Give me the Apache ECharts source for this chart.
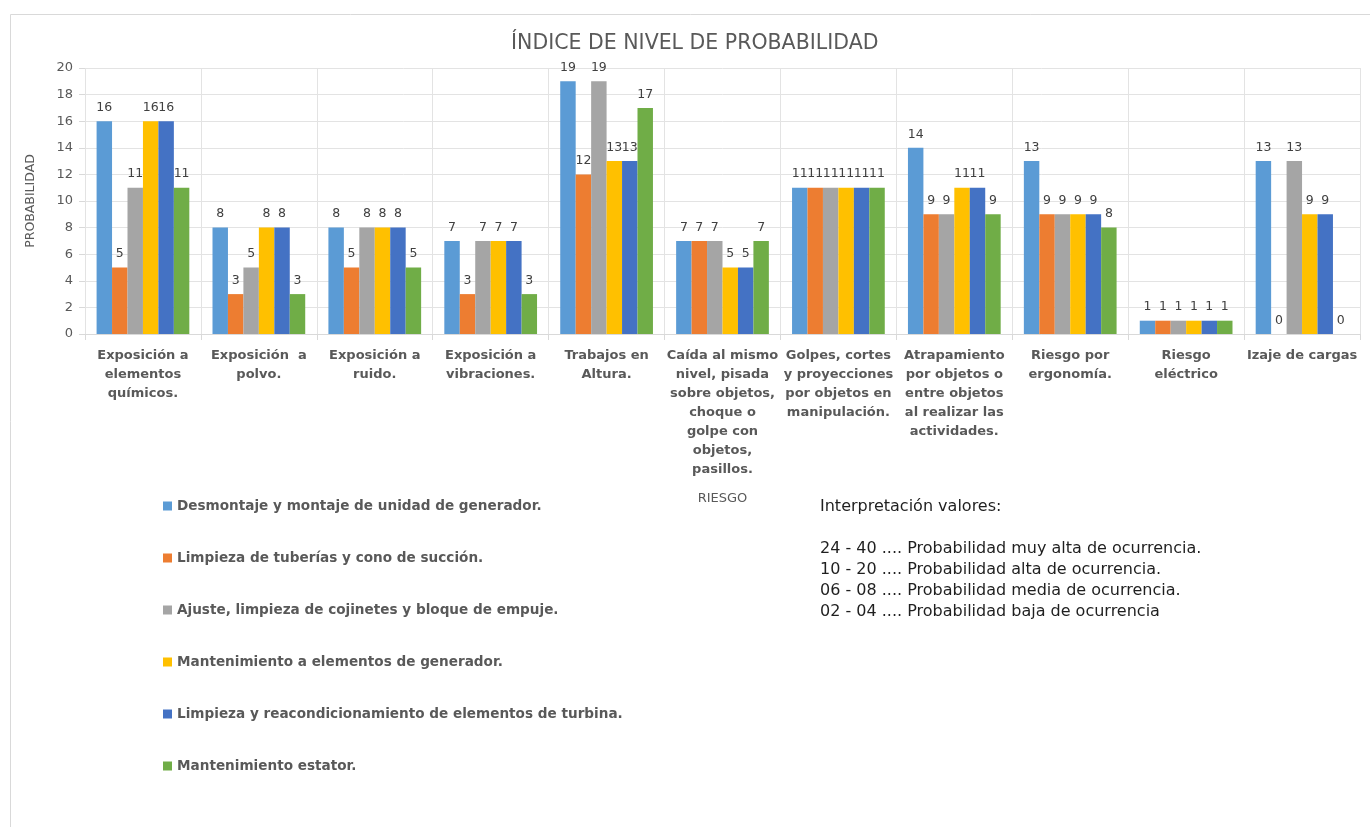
<!DOCTYPE html>
<html>
<head>
<meta charset="utf-8">
<title>Índice de nivel de probabilidad</title>
<script src="https://cdn.jsdelivr.net/npm/echarts@6/dist/echarts.min.js"></script>
<style>
  html, body { margin: 0; padding: 0; background: #ffffff; }
  #chart { width: 1370px; height: 827px; }
</style>
</head>
<body>
<div id="chart"></div>
<script>
// Risk categories (x axis)
const categories = [
  'Exposición a\nelementos\nquímicos.',
  'Exposición  a\npolvo.',
  'Exposición a\nruido.',
  'Exposición a\nvibraciones.',
  'Trabajos en\nAltura.',
  'Caída al mismo\nnivel, pisada\nsobre objetos,\nchoque o\ngolpe con\nobjetos,\npasillos.',
  'Golpes, cortes\ny proyecciones\npor objetos en\nmanipulación.',
  'Atrapamiento\npor objetos o\nentre objetos\nal realizar las\nactividades.',
  'Riesgo por\nergonomía.',
  'Riesgo\neléctrico',
  'Izaje de cargas'
];

// Activities (series names)
const activities = [
  'Desmontaje y montaje de unidad de generador.',
  'Limpieza de tuberías y cono de succión.',
  'Ajuste, limpieza de cojinetes y bloque de empuje.',
  'Mantenimiento a elementos de generador.',
  'Limpieza y reacondicionamiento de elementos de turbina.',
  'Mantenimiento estator.'
];

// Probability index per activity, one value per risk category
const desmontajeGenerador  = [16, 8, 8, 7, 19, 7, 11, 14, 13, 1, 13];
const limpiezaTuberias     = [5, 3, 5, 3, 12, 7, 11, 9, 9, 1, 0];
const ajusteCojinetes      = [11, 5, 8, 7, 19, 7, 11, 9, 9, 1, 13];
const mantElementosGen     = [16, 8, 8, 7, 13, 5, 11, 11, 9, 1, 9];
const limpiezaTurbina      = [16, 8, 8, 7, 13, 5, 11, 11, 9, 1, 9];
const mantEstator          = [11, 3, 5, 3, 17, 7, 11, 9, 8, 1, 0];

const seriesValues = [desmontajeGenerador, limpiezaTuberias, ajusteCojinetes,
                      mantElementosGen, limpiezaTurbina, mantEstator];
const colors = ['#5B9BD5', '#ED7D31', '#A5A5A5', '#FFC000', '#4472C4', '#70AD47'];

// Y axis ticks
const yMin = 0, yMax = 20, yStep = 2;

// Interpretation notes
const notes = [
  'Interpretación valores:',
  '',
  '24 - 40 .... Probabilidad muy alta de ocurrencia.',
  '10 - 20 .... Probabilidad alta de ocurrencia.',
  '06 - 08 .... Probabilidad media de ocurrencia.',
  '02 - 04 .... Probabilidad baja de ocurrencia'
];

const FONT = '"DejaVu Sans", "Open Sans", sans-serif';
const chart = echarts.init(document.getElementById('chart'));

chart.setOption({
  animation: false,
  textStyle: { fontFamily: FONT },
  color: colors,
  title: {
    text: 'ÍNDICE DE NIVEL DE PROBABILIDAD',
    left: 506,
    top: 28,
    textStyle: { fontFamily: FONT, fontSize: 20.5, fontWeight: 'normal', color: '#595959' }
  },
  grid: { left: 85, right: 10, top: 68, bottom: 493, containLabel: false },
  legend: {
    orient: 'vertical',
    left: 163,
    top: 498,
    padding: 0,
    itemWidth: 9,
    itemHeight: 9,
    itemGap: 36,
    icon: 'rect',
    data: activities,
    textStyle: { fontFamily: FONT, fontSize: 13.6, fontWeight: 'bold', color: '#595959', lineHeight: 16 }
  },
  xAxis: {
    type: 'category',
    data: categories,
    name: 'RIESGO',
    nameLocation: 'middle',
    nameGap: 158,
    nameTextStyle: { fontFamily: FONT, fontSize: 13, color: '#595959' },
    axisLine: { lineStyle: { color: '#D9D9D9' } },
    axisTick: { show: true, length: 6, lineStyle: { color: '#D9D9D9' } },
    splitLine: { show: true, interval: 0, lineStyle: { color: '#E3E3E3' } },
    axisLabel: {
      interval: 0,
      margin: 12,
      fontFamily: FONT,
      fontSize: 13,
      fontWeight: 'bold',
      color: '#595959',
      lineHeight: 19,
      align: 'center'
    }
  },
  yAxis: {
    type: 'value',
    min: yMin,
    max: yMax,
    interval: yStep,
    name: 'PROBABILIDAD',
    nameLocation: 'middle',
    nameGap: 48,
    nameRotate: 90,
    nameTextStyle: { fontFamily: FONT, fontSize: 12.5, color: '#595959' },
    axisLine: { show: false },
    axisTick: { show: true, length: 6, lineStyle: { color: '#D9D9D9' } },
    splitLine: { lineStyle: { color: '#E3E3E3' } },
    axisLabel: { fontFamily: FONT, fontSize: 13, color: '#595959', margin: 12 }
  },
  series: activities.map((name, i) => ({
    name: name,
    type: 'bar',
    data: seriesValues[i],
    barGap: '0%',
    barCategoryGap: '20%',
    label: {
      show: true,
      position: 'top',
      distance: 7,
      fontFamily: FONT,
      fontSize: 12.5,
      color: '#404040'
    }
  })),
  graphic: [
    {
      type: 'rect',
      left: 8,
      top: 12,
      shape: { width: 1380, height: 840 },
      style: { fill: 'none', stroke: '#D9D9D9', lineWidth: 1 },
      silent: true,
      z: -1
    },
    {
      type: 'text',
      left: 820,
      top: 496,
      style: {
        text: notes.join('\n'),
        fontFamily: FONT,
        fontSize: 16,
        lineHeight: 21,
        fill: '#1F1F1F'
      }
    }
  ]
});
</script>
</body>
</html>
